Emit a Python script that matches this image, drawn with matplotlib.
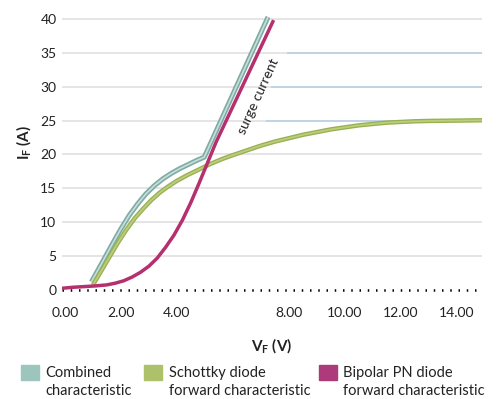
import matplotlib
matplotlib.use("Agg")
import matplotlib.pyplot as plt
from matplotlib.patches import Rectangle

plt.rcParams['font.family'] = ['Lato', 'DejaVu Sans']

# forward voltage (V) / forward current (A)
combined_v = [0.95, 1.3, 1.7, 2.0, 2.3, 2.6, 2.9, 3.2, 3.5, 3.8, 4.1, 4.4, 4.7, 4.98, 7.26]
combined_i = [1.2, 3.8, 6.8, 9.0, 11.0, 12.7, 14.2, 15.4, 16.4, 17.2, 17.9, 18.5, 19.1, 19.6, 40.3]

schottky_v = [1.0, 1.3, 1.6, 1.9, 2.2, 2.5, 2.8, 3.1, 3.4, 3.7, 4.0, 4.4, 4.8, 5.2, 5.6, 6.0,
              6.5, 7.0, 7.5, 8.0, 8.5, 9.0, 9.5, 10.0, 10.5, 11.0, 11.5, 12.0, 12.5, 13.0,
              14.0, 14.9]
schottky_i = [0.7, 2.8, 4.9, 7.0, 8.9, 10.6, 12.0, 13.3, 14.4, 15.3, 16.1, 17.0, 17.8, 18.6,
              19.3, 19.9, 20.6, 21.3, 21.9, 22.4, 22.9, 23.3, 23.7, 24.0, 24.3, 24.5, 24.7,
              24.8, 24.9, 24.95, 25.0, 25.05]

bipolar_v = [-0.1, 0.3, 0.7, 1.1, 1.5, 1.8, 2.1, 2.4, 2.7, 3.0, 3.3, 3.6, 3.9, 4.2, 4.5,
             4.8, 5.1, 5.4, 7.43]
bipolar_i = [0.25, 0.4, 0.5, 0.6, 0.75, 1.0, 1.35, 1.9, 2.6, 3.5, 4.7, 6.3, 8.1, 10.3, 12.9,
             15.8, 18.8, 21.8, 39.6]

x_ticks = [0, 2, 4, 8, 10, 12, 14]
y_ticks = [0, 5, 10, 15, 20, 25, 30, 35, 40]

# light blue marker lines on the right (level, start voltage)
marker_levels = [35, 30, 25]
marker_starts = [7.93, 7.36, 7.2]

legend_labels = ["Combined\ncharacteristic",
                 "Schottky diode\nforward characteristic",
                 "Bipolar PN diode\nforward characteristic"]
legend_colors = ["#9cc5bd", "#adc06a", "#ad3a7a"]

fig = plt.figure(figsize=(5.02, 3.99), dpi=100)
ax = fig.add_axes([62 / 502, (399 - 292) / 399, 420 / 502, 279.8 / 399])
ax.set_xlim(-0.1, 14.9)
ax.set_ylim(-0.3, 41)

# grid
for y in y_ticks[1:]:
    ax.axhline(y, color="#e3dfe0", lw=1.2, zorder=0)
for lvl, st in zip(marker_levels, marker_starts):
    ax.hlines(lvl, st, 14.9, color="#b9d1e3", lw=1.2, zorder=1)
ax.axhline(0, color="black", lw=1.8, linestyle=(0, (0.6, 2.7)), zorder=2)

# curves
ax.plot(combined_v, combined_i, color="#80aaa4", lw=3.6, solid_capstyle="butt",
        solid_joinstyle="round", zorder=3)
ax.plot(combined_v, combined_i, color="#c6e0da", lw=1.2, solid_capstyle="butt",
        solid_joinstyle="round", zorder=3)
ax.plot(schottky_v, schottky_i, color="#98b052", lw=3.2, solid_capstyle="butt",
        solid_joinstyle="round", zorder=4)
ax.plot(schottky_v, schottky_i, color="#bccd7c", lw=1.3, solid_capstyle="butt",
        solid_joinstyle="round", zorder=4)
ax.plot(bipolar_v, bipolar_i, color="#b5306f", lw=2.5, solid_joinstyle="round", zorder=5)

ax.text(6.9, 28.6, "surge current", rotation=65.5, ha="center", va="center",
        fontsize=10, color="#222222", rotation_mode="anchor")

for s in ax.spines.values():
    s.set_visible(False)
ax.set_xticks(x_ticks)
ax.set_xticklabels(["%.2f" % v for v in x_ticks])
ax.set_yticks(y_ticks)
ax.tick_params(length=0, labelsize=10, labelcolor="#222222")
ax.tick_params(axis="x", pad=11)
ax.tick_params(axis="y", pad=4)

ax.set_xlabel(r"$\mathregular{V_F}$ (V)", fontsize=11, fontweight="bold", color="#222222")
ax.xaxis.set_label_coords(0.5, -0.158)
ax.set_ylabel(r"$\mathregular{I_F}$ (A)", fontsize=11, fontweight="bold", color="#222222")
ax.yaxis.set_label_coords(-0.07, 0.533)

# legend drawn by hand
patch_x = [21, 144, 319]
text_x = [45, 169, 343]
for px, tx, lab, col in zip(patch_x, text_x, legend_labels, legend_colors):
    fig.add_artist(Rectangle((px / 502, (399 - 380) / 399), 18 / 502, 15 / 399,
                             transform=fig.transFigure, color=col))
    fig.text(tx / 502, (399 - 366) / 399, lab, ha="left", va="top", fontsize=10.5,
             color="#222222", linespacing=1.35)

fig.savefig("out.png", dpi=100)
